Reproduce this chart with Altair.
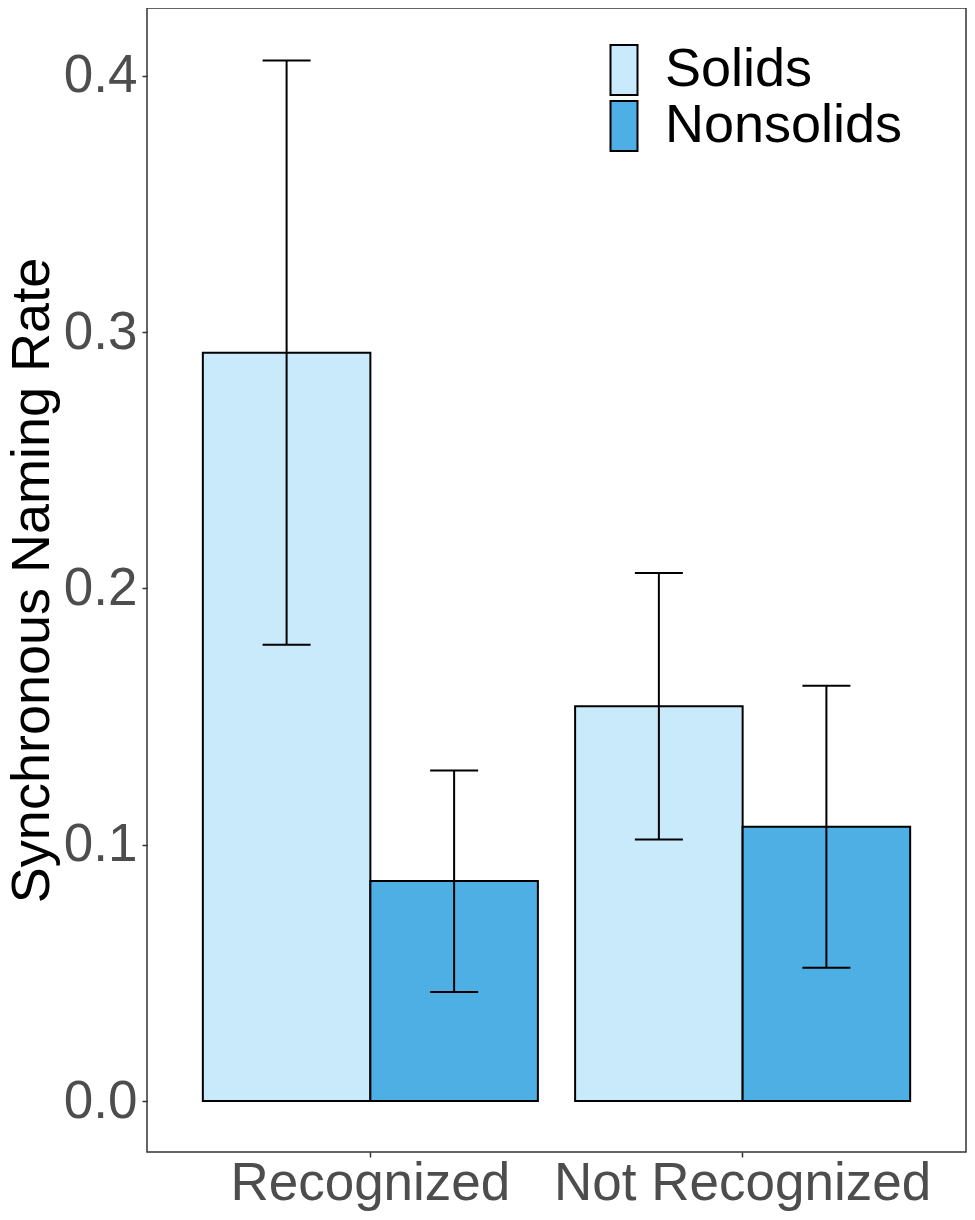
import altair as alt
import pandas as pd

recognition = ["Recognized", "Recognized", "Not Recognized", "Not Recognized"]
noun_type = ["Solids", "Nonsolids", "Solids", "Nonsolids"]
rate = [0.292, 0.0858, 0.154, 0.107]
lower = [0.178, 0.0425, 0.102, 0.052]
upper = [0.406, 0.129, 0.206, 0.162]

cat_order = ["Recognized", "Not Recognized"]
type_order = ["Solids", "Nonsolids"]
colors = ["#C8EAFB", "#4DAFE4"]

df = pd.DataFrame({"rec": recognition, "type": noun_type, "rate": rate,
                   "lo": lower, "hi": upper})

FONT = "Liberation Sans"

x_enc = alt.X("rec:N", sort=cat_order,
              scale=alt.Scale(paddingInner=0.1, paddingOuter=0.15),
              axis=alt.Axis(title=None, labelAngle=0, labelFontSize=53,
                            labelColor="#4D4D4D", labelFont=FONT, labelLimit=600,
                            tickSize=5, tickColor="#333333", tickWidth=1.5,
                            labelPadding=0, domain=False))
xo_enc = alt.XOffset("type:N", sort=type_order,
                     scale=alt.Scale(paddingInner=0, paddingOuter=0))
y_scale = alt.Scale(domain=[-0.0199, 0.4265], nice=False, zero=False)

bars = alt.Chart(df).mark_bar(stroke="black", strokeWidth=2, opacity=1).encode(
    x=x_enc,
    xOffset=xo_enc,
    y=alt.Y("rate:Q", scale=y_scale,
            axis=alt.Axis(title="Synchronous Naming Rate", values=[0, 0.1, 0.2, 0.3, 0.4],
                          format=".1f", labelFontSize=53, labelColor="#4D4D4D",
                          labelFont=FONT, tickSize=5, tickColor="#333333",
                          tickWidth=1.5, labelPadding=5, domain=False, grid=False,
                          titleFontSize=54, titleFont=FONT, titleColor="black",
                          titleFontWeight="normal", titlePadding=4)),
    y2=alt.datum(0),
    color=alt.Color("type:N", sort=type_order,
                    scale=alt.Scale(domain=type_order, range=colors),
                    legend=alt.Legend(title=None, orient="none", legendX=450, legendY=35,
                                      symbolType="M-0.54,-1L0.54,-1L0.54,1L-0.54,1Z",
                                      symbolSize=2500, symbolStrokeColor="black",
                                      symbolStrokeWidth=2, symbolOpacity=1,
                                      labelFontSize=54, labelFont=FONT, labelColor="black",
                                      labelOffset=14, rowPadding=-14, padding=0,
                                      labelLimit=400)),
)

rules = alt.Chart(df).mark_rule(color="black", strokeWidth=2).encode(
    x=alt.X("rec:N", sort=cat_order), xOffset=xo_enc,
    y=alt.Y("lo:Q", scale=y_scale), y2="hi:Q")

caps_lo = alt.Chart(df).mark_tick(color="black", thickness=2, size=48,
                                  orient="horizontal", opacity=1).encode(
    x=alt.X("rec:N", sort=cat_order), xOffset=xo_enc,
    y=alt.Y("lo:Q", scale=y_scale))
caps_hi = alt.Chart(df).mark_tick(color="black", thickness=2, size=48,
                                  orient="horizontal", opacity=1).encode(
    x=alt.X("rec:N", sort=cat_order), xOffset=xo_enc,
    y=alt.Y("hi:Q", scale=y_scale))

chart = alt.layer(bars, rules, caps_lo, caps_hi).properties(
    width=819, height=1144,
    padding={"left": 139, "top": 0, "right": 1, "bottom": 60},
    autosize=alt.AutoSizeParams(type="none"),
    background="white",
).configure_view(stroke="#333333", strokeWidth=1.5)

chart.save("out.html", embed_options={"renderer": "svg", "actions": False})
